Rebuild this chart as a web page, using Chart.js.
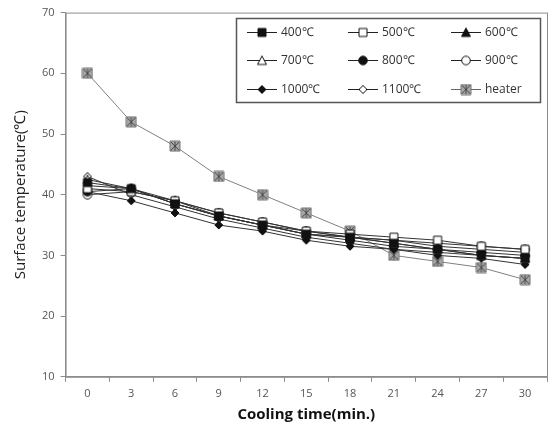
<!DOCTYPE html>
<html lang="en">
<head>
<meta charset="UTF-8">
<title>surface temperature</title>
<script src="https://cdn.jsdelivr.net/npm/chart.js@4.4.1/dist/chart.umd.min.js"></script>
<style>
  html, body { margin: 0; padding: 0; background: #fff; }
  #wrap { width: 553px; height: 426px; position: relative; }
</style>
</head>
<body>
<div id="wrap"><canvas id="myChart"></canvas></div>
<script>
// cooling time (min.)
var times = ['0', '3', '6', '9', '12', '15', '18', '21', '24', '27', '30'];
var yTicks = [10, 20, 30, 40, 50, 60, 70];

var labels = ['400\u2103', '500\u2103', '600\u2103', '700\u2103', '800\u2103', '900\u2103', '1000\u2103', '1100\u2103', 'heater'];

var t400  = [42.0, 41.0, 38.5, 36.5, 35.0, 33.5, 33.0, 32.0, 31.0, 30.0, 29.5];
var t500  = [41.0, 40.5, 39.0, 37.0, 35.5, 34.0, 33.5, 33.0, 32.5, 31.5, 31.0];
var t600  = [41.5, 41.0, 38.5, 36.5, 35.0, 33.5, 33.0, 32.5, 31.5, 31.0, 30.5];
var t700  = [42.5, 41.0, 39.0, 36.5, 35.0, 34.0, 33.0, 32.0, 31.0, 30.0, 29.5];
var t800  = [40.5, 41.0, 38.5, 36.5, 35.0, 33.5, 32.5, 31.5, 31.0, 30.5, 30.0];
var t900  = [40.0, 40.5, 39.0, 37.0, 35.5, 34.0, 33.0, 32.5, 32.0, 31.5, 31.0];
var t1000 = [40.5, 39.0, 37.0, 35.0, 34.0, 32.5, 31.5, 31.0, 30.0, 29.5, 28.5];
var t1100 = [43.0, 40.0, 38.0, 36.0, 34.5, 33.0, 32.0, 31.0, 30.5, 30.0, 29.5];
var heater = [60.0, 52.0, 48.0, 43.0, 40.0, 37.0, 34.0, 30.0, 29.0, 28.0, 26.0];

var series = [t400, t500, t600, t700, t800, t900, t1000, t1100, heater];
var markerTypes = ['sq', 'sqo', 'tri', 'trio', 'cir', 'ciro', 'dia', 'diao', 'star'];

// little canvases used as point styles (and again in the legend)
function makeMarker(type) {
  var c = document.createElement('canvas');
  c.width = 12; c.height = 12;
  var g = c.getContext('2d');
  g.lineWidth = 1;
  g.strokeStyle = '#111';
  g.fillStyle = '#111';
  var m = 6;
  g.beginPath();
  if (type == 'sq' || type == 'sqo') {
    g.rect(2, 2, 8, 8);
  } else if (type == 'tri' || type == 'trio') {
    g.moveTo(m, 1.5); g.lineTo(10.5, 10); g.lineTo(1.5, 10); g.closePath();
  } else if (type == 'cir' || type == 'ciro') {
    g.arc(m, m, 4.3, 0, Math.PI * 2);
  } else if (type == 'dia' || type == 'diao') {
    g.moveTo(m, 2); g.lineTo(10, m); g.lineTo(m, 10); g.lineTo(2, m); g.closePath();
  } else if (type == 'star') {
    g.rect(1, 1, 10, 10);
    g.fillStyle = '#a8a8a8';
    g.strokeStyle = '#777';
    g.fill(); g.stroke();
    g.beginPath();
    g.strokeStyle = '#444';
    g.moveTo(2, 2); g.lineTo(10, 10);
    g.moveTo(10, 2); g.lineTo(2, 10);
    g.moveTo(m, 1.5); g.lineTo(m, 10.5);
    g.stroke();
    return c;
  }
  if (type.slice(-1) == 'o') {
    g.fillStyle = '#fff';
    g.fill();
    g.stroke();
  } else {
    g.fill();
    g.stroke();
  }
  return c;
}

var datasets = [];
for (var i = 0; i < series.length; i++) {
  var isHeater = (labels[i] == 'heater');
  datasets.push({
    label: labels[i],
    data: series[i],
    borderColor: isHeater ? '#808080' : '#333',
    borderWidth: 1,
    pointStyle: makeMarker(markerTypes[i]),
    pointRadius: 5,
    tension: 0,
    fill: false,
    order: isHeater ? 1 : 0
  });
}

// boxed legend inside the plot + frame round the chart area
var boxLegend = {
  id: 'boxLegend',
  afterDraw: function(chart) {
    var ctx = chart.ctx;
    var a = chart.chartArea;
    ctx.save();
    ctx.strokeStyle = '#8c8c8c';
    ctx.lineWidth = 1;
    ctx.strokeRect(a.left + 0.5, a.top + 0.5, a.right - a.left, a.bottom - a.top);

    var bx = 236, by = 18, bw = 304, bh = 84;
    ctx.fillStyle = '#fff';
    ctx.fillRect(bx, by, bw, bh);
    ctx.strokeStyle = '#555';
    ctx.lineWidth = 1.5;
    ctx.strokeRect(bx + 0.5, by + 0.5, bw, bh);

    var colX = [247, 348, 451];
    var rowY = [32, 60, 89];
    ctx.font = '12px "Open Sans", sans-serif';
    ctx.textBaseline = 'middle';
    chart.data.datasets.forEach(function(ds, k) {
      var x = colX[k % 3], y = rowY[Math.floor(k / 3)];
      ctx.strokeStyle = ds.borderColor == '#333' ? '#222' : '#666';
      ctx.lineWidth = 1;
      ctx.beginPath();
      ctx.moveTo(x, y + 0.5); ctx.lineTo(x + 30, y + 0.5);
      ctx.stroke();
      var img = ds.pointStyle;
      ctx.drawImage(img, x + 15 - img.width / 2, y - img.height / 2 + 0.5);
      ctx.fillStyle = '#333';
      ctx.fillText(ds.label, x + 34, y + 1);
    });
    ctx.restore();
  }
};

var ctx = document.getElementById('myChart');
new Chart(ctx, {
  type: 'line',
  data: { labels: times, datasets: datasets },
  plugins: [boxLegend],
  options: {
    responsive: true,
    maintainAspectRatio: false,
    animation: false,
    layout: { padding: { top: 9, right: 4, left: 8, bottom: 1 } },
    plugins: {
      legend: { display: false },
      tooltip: { enabled: false }
    },
    scales: {
      x: {
        offset: true,
        grid: { offset: true, drawOnChartArea: false, drawTicks: true, tickLength: 5, color: '#8c8c8c' },
        border: { color: '#8c8c8c' },
        ticks: { color: '#555', font: { size: 11, family: 'Open Sans' }, padding: 5 },
        title: { display: true, text: 'Cooling time(min.)', color: '#111', font: { size: 15, weight: 'bold', family: 'Open Sans' }, padding: { top: 1, bottom: 1 } }
      },
      y: {
        min: 10,
        max: 70,
        afterBuildTicks: function(axis) { axis.ticks = yTicks.map(function(v) { return { value: v }; }); },
        grid: { drawOnChartArea: false, drawTicks: true, tickLength: 5, color: '#8c8c8c' },
        border: { color: '#8c8c8c' },
        ticks: { color: '#555', font: { size: 11, family: 'Open Sans' }, padding: 6 },
        title: { display: true, text: 'Surface temperature(\u2103)', color: '#222', font: { size: 15, family: 'Open Sans' }, padding: { bottom: 6 } }
      }
    }
  }
});
</script>
</body>
</html>
